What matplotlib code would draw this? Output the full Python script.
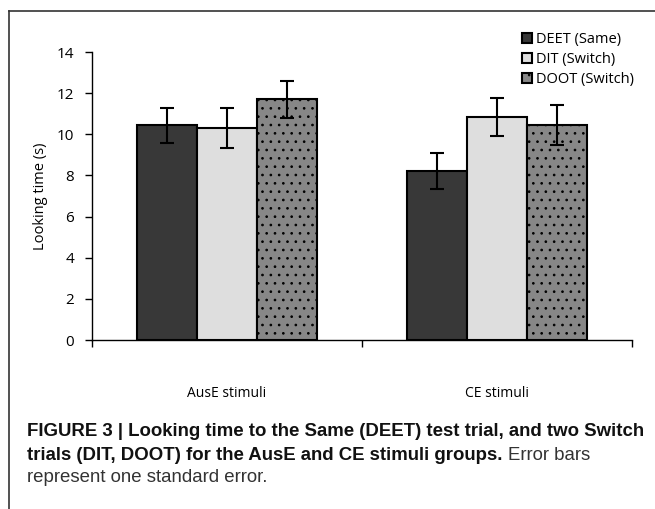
import numpy as np
import matplotlib
matplotlib.use('Agg')
from matplotlib import pyplot as plt
from matplotlib.lines import Line2D

groups = ['AusE stimuli', 'CE stimuli']
series = ['DEET (Same)', 'DIT (Switch)', 'DOOT (Switch)']
deet = [10.45, 8.2]
dit = [10.3, 10.85]
doot = [11.7, 10.45]
deet_err = [0.85, 0.88]
dit_err = [0.97, 0.92]
doot_err = [0.89, 0.97]
yticks = [0, 2, 4, 6, 8, 10, 12, 14]

plt.rcParams['font.family'] = ['Open Sans', 'DejaVu Sans']
plt.rcParams['hatch.linewidth'] = 0.7
plt.rcParams['hatch.color'] = '#333333'

fig = plt.figure(figsize=(6.55, 5.09), dpi=100)
ax = fig.add_axes([92/655, 1-340/509, 540/655, 288/509])

x = np.arange(len(groups))
w = 0.222
colors = ['#383838', '#dedede', '#878787']
hatches = [None, None, '..']
vals = [deet, dit, doot]
errs = [deet_err, dit_err, doot_err]
for i in range(3):
    ax.bar(x + (i - 1) * w, vals[i], w, color=colors[i], edgecolor='black',
           linewidth=1.5, hatch=hatches[i], label=series[i], zorder=2)
    ax.errorbar(x + (i - 1) * w, vals[i], yerr=errs[i], fmt='none', ecolor='black',
                elinewidth=1.5, capsize=5, capthick=1.5, zorder=3)

ax.set_xlim(-0.5, 1.5)
ax.set_ylim(0, 14)
ax.set_yticks(yticks)
ax.set_xticks([-0.5, 0.5, 1.5])
ax.set_xticklabels([])
ax.set_xticks(x, minor=True)
ax.set_xticklabels(groups, minor=True, fontsize=10)
ax.tick_params(axis='x', which='minor', length=0, pad=33)
ax.tick_params(axis='x', which='major', length=5, width=1, direction='out')
ax.tick_params(axis='y', length=5, width=1, direction='out', labelsize=11, pad=8)
for s in ['top', 'right']:
    ax.spines[s].set_visible(False)
ax.spines['left'].set_linewidth(1)
ax.spines['bottom'].set_linewidth(1)
ax.set_ylabel('Looking time (s)', fontsize=10.5, labelpad=6)

leg = ax.legend(loc='upper left', bbox_to_anchor=(0.785, 1.09), frameon=False,
                fontsize=10.5, handlelength=0.7, handleheight=0.7, handletextpad=0.3,
                labelspacing=0.35, borderaxespad=0)

# panel frame (top and left edges)
fig.add_artist(Line2D([9/655, 9/655], [0, 1-11/509], color='#333333', lw=1.2))
fig.add_artist(Line2D([9/655, 1], [1-11/509, 1-11/509], color='#333333', lw=1.2))

cap = ['Liberation Sans', 'DejaVu Sans']
fs = 12
t1 = fig.text(27/655, 1-431/509, 'FIGURE 3 | Looking time to the Same (DEET) test trial, and two Switch',
              fontsize=fs, fontweight='bold', family=cap, va='center', color='#111111')
fig.canvas.draw()
fs = fs * 618 / t1.get_window_extent().width
t1.set_fontsize(fs)
t2 = fig.text(27/655, 1-455/509, 'trials (DIT, DOOT) for the AusE and CE stimuli groups.',
              fontsize=fs, fontweight='bold', family=cap, va='center', color='#111111')
fig.canvas.draw()
bb = t2.get_window_extent()
fig.text((bb.x1 + 5) / 655, 1-455/509, 'Error bars', fontsize=fs, family=cap,
         va='center', color='#333333')
fig.text(27/655, 1-478/509, 'represent one standard error.', fontsize=fs, family=cap,
         va='center', color='#333333')

fig.savefig('out.png', dpi=100)
